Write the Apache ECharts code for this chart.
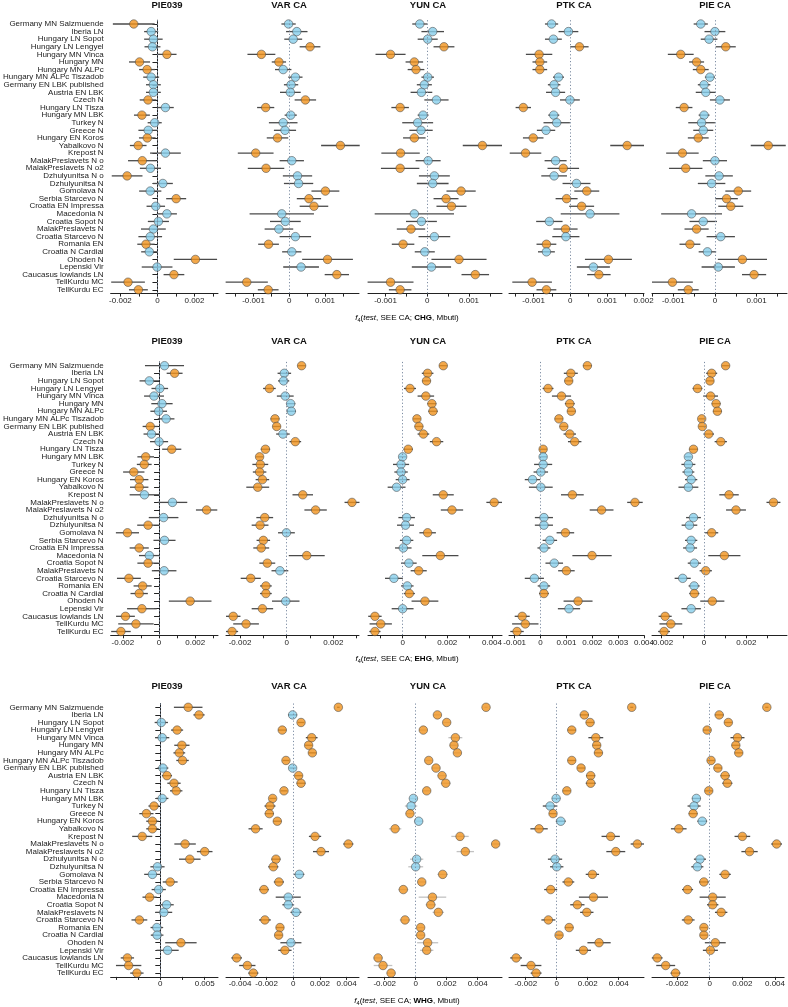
<!DOCTYPE html>
<html><head><meta charset="utf-8">
<script src="https://cdn.jsdelivr.net/npm/echarts@6/dist/echarts.min.js"></script>
<style>html,body{margin:0;padding:0;background:#fff}#c{width:788px;height:1007px}</style>
</head><body><div id="c"></div>
<script>
const categories = ['Germany MN Salzmuende','Iberia LN','Hungary LN Sopot','Hungary LN Lengyel','Hungary MN Vinca','Hungary MN','Hungary MN ALPc','Hungary MN ALPc Tiszadob','Germany EN LBK published','Austria EN LBK','Czech N','Hungary LN Tisza','Hungary MN LBK','Turkey N','Greece N','Hungary EN Koros','Yabalkovo N','Krepost N','MalakPreslavets N o','MalakPreslavets N o2','Dzhulyunitsa N o','Dzhulyunitsa N','Gomolava N','Serbia Starcevo N','Croatia EN Impressa','Macedonia N','Croatia Sopot N','MalakPreslavets N','Croatia Starcevo N','Romania EN','Croatia N Cardial','Ohoden N','Lepenski Vir','Caucasus lowlands LN','TellKurdu MC','TellKurdu EC'];
const panelNames = ['PIE039','VAR CA','YUN CA','PTK CA','PIE CA'];
const sourceNames = ['CHG','EHG','WHG'];

// ---- CHG row ----
const CHG_PIE039 = [-0.00128,-0.00034,-0.00022,-0.00027,0.00051,-0.00097,-0.00056,-0.00034,-0.00022,-0.00022,-0.00051,0.00043,-0.00084,-0.00015,-0.0005,-0.00055,-0.00104,0.00043,-0.00082,-0.00038,-0.00164,0.00029,-0.00039,0.00101,-0.00009,0.00051,0.00005,-0.00022,-0.00039,-0.00062,-0.00044,0.00205,-0.00002,0.00089,-0.00159,-0.00103];
const CHG_PIE039_SE = [0.00113,0.00038,0.0005,0.00043,0.00052,0.00057,0.00043,0.00043,0.0004,0.0004,0.00045,0.00045,0.00043,0.00038,0.00053,0.00045,0.00045,0.00083,0.00077,0.00057,0.00083,0.00054,0.0006,0.00054,0.0005,0.00054,0.00057,0.00067,0.00064,0.00047,0.00044,0.00117,0.00083,0.00056,0.00091,0.00051];
const CHG_PIE039_SIG = [1,0,0,0,1,1,1,0,0,0,1,0,1,0,0,1,1,0,1,0,1,0,0,1,0,0,0,0,0,1,0,1,0,1,1,1];
const CHG_VAR = [-0.00002,0.00021,0.00011,0.00058,-0.00078,-0.00029,-0.00017,0.00017,0.00005,0.00003,0.00045,-0.00066,0.00004,-0.00017,-0.00012,-0.00033,0.00143,-0.00094,0.00007,-0.00065,0.00023,0.00026,0.00101,0.00055,0.00069,-0.00021,-0.00011,-0.00029,0.00017,-0.00058,0.00007,0.00107,0.00033,0.00133,-0.00119,-0.00059];
const CHG_VAR_SE = [0.0002,0.0003,0.00025,0.00029,0.00039,0.0002,0.00023,0.0002,0.0002,0.00029,0.0003,0.00024,0.00017,0.0004,0.00031,0.0003,0.00054,0.0005,0.00034,0.00051,0.00041,0.00041,0.00039,0.00034,0.0004,0.0009,0.00043,0.0004,0.00044,0.00029,0.00027,0.00071,0.0005,0.00034,0.00059,0.00029];
const CHG_VAR_SIG = [0,0,0,1,1,1,0,0,0,0,1,1,0,0,0,1,1,1,0,1,0,0,1,1,1,0,0,0,0,1,0,1,0,1,1,1];
const CHG_YUN = [-0.00018,0.00013,0.00001,0.0004,-0.00088,-0.00031,-0.00027,0.00001,-0.00007,-0.00014,0.00022,-0.00065,-0.0001,-0.00023,-0.00015,-0.00031,0.00132,-0.00064,0.00002,-0.00065,0.00017,0.00013,0.00081,0.00045,0.00058,-0.00031,-0.00014,-0.00039,0.00017,-0.00058,-0.00006,0.00076,0.0001,0.00115,-0.00088,-0.00065];
const CHG_YUN_SE = [0.00018,0.00027,0.00024,0.00025,0.00036,0.00021,0.0002,0.00015,0.00018,0.00026,0.00029,0.00021,0.00013,0.00037,0.00028,0.00027,0.00047,0.00046,0.0003,0.00046,0.00037,0.00038,0.00035,0.0003,0.00036,0.00095,0.00037,0.00034,0.00038,0.00027,0.00024,0.00066,0.00047,0.00033,0.00055,0.00027];
const CHG_YUN_SIG = [0,0,0,1,1,1,1,0,0,0,0,1,0,0,0,1,1,1,0,1,0,0,1,1,1,0,0,1,0,1,0,1,0,1,1,1];
const CHG_PTK = [-0.00051,-0.00005,-0.00046,0.00025,-0.00085,-0.00083,-0.00083,-0.00032,-0.00044,-0.0004,-0.00001,-0.00128,-0.00045,-0.00037,-0.00066,-0.00101,0.00155,-0.00122,-0.0004,-0.00019,-0.00044,0.00017,0.00045,-0.0001,0.00031,0.00054,-0.00057,-0.00013,-0.00012,-0.00065,-0.00065,0.00104,0.00063,0.00078,-0.00104,-0.00065];
const CHG_PTK_SE = [0.00018,0.00027,0.00023,0.00025,0.00036,0.0002,0.0002,0.00015,0.00017,0.00026,0.00027,0.00021,0.00015,0.00036,0.00025,0.00028,0.00046,0.00043,0.0003,0.00043,0.00035,0.00038,0.00034,0.0003,0.00034,0.0008,0.00036,0.00033,0.00037,0.00027,0.00023,0.00064,0.00045,0.00032,0.00054,0.00027];
const CHG_PTK_SIG = [0,0,0,1,1,1,1,0,0,0,0,1,0,0,0,1,1,1,0,1,0,0,1,1,1,0,0,1,0,1,0,1,0,1,1,1];
const CHG_PIE = [-0.00034,0,-0.00014,0.00026,-0.00082,-0.00044,-0.00034,-0.00012,-0.00026,-0.00022,0.00012,-0.00074,-0.00026,-0.00032,-0.00028,-0.0004,0.00128,-0.00078,0,-0.0007,0.0001,-0.00008,0.00056,0.00028,0.00038,-0.00056,-0.00028,-0.00044,0.00014,-0.0006,-0.00018,0.00066,0.00008,0.00094,-0.00102,-0.00064];
const CHG_PIE_SE = [0.00017,0.00025,0.0002,0.00024,0.00031,0.00018,0.00019,0.00012,0.00015,0.00024,0.00024,0.0002,0.00013,0.00032,0.00024,0.00025,0.00042,0.00039,0.00029,0.0004,0.00033,0.00033,0.00031,0.00027,0.0003,0.00073,0.00033,0.00029,0.00034,0.00025,0.00021,0.00059,0.0004,0.00029,0.00049,0.00025];
const CHG_PIE_SIG = [0,0,0,1,1,1,1,0,0,0,0,1,0,0,0,1,1,1,0,1,0,0,1,1,1,0,0,1,0,1,0,1,0,1,1,1];

// ---- EHG row ----
const EHG_PIE039 = [0.0003,0.00086,-0.00054,0.00004,-0.00028,0.00016,-0.00002,0.00039,-0.00049,-0.00042,0,0.0007,-0.00074,-0.00082,-0.0014,-0.0011,-0.0011,-0.00081,0.00074,0.00263,0.00025,-0.00061,-0.00175,0.0003,-0.0011,-0.00054,-0.00061,0.00028,-0.00167,-0.00091,-0.0011,0.00172,-0.00095,-0.00186,-0.00128,-0.00211];
const EHG_PIE039_SE = [0.00108,0.00044,0.00054,0.00046,0.00055,0.00059,0.00046,0.00046,0.00042,0.00044,0.0005,0.00053,0.00046,0.00041,0.00059,0.00051,0.00051,0.00082,0.00082,0.00059,0.00082,0.0006,0.00064,0.00061,0.00053,0.00057,0.00059,0.00068,0.00066,0.0005,0.00048,0.00118,0.00082,0.00052,0.00098,0.00054];
const EHG_PIE039_SIG = [0,1,0,0,0,0,0,0,1,0,0,1,1,1,1,1,1,0,0,1,0,1,1,0,1,0,1,0,1,1,1,1,1,1,1,1];
const EHG_VAR = [0.00064,-0.0001,-0.00013,-0.00074,-0.00006,0.00017,0.0002,-0.0005,-0.00043,-0.00016,0.00037,-0.00091,-0.00116,-0.00113,-0.00116,-0.00104,-0.00124,0.00069,0.0028,0.00124,-0.00094,-0.00114,-0.00001,-0.001,-0.00109,0.00086,-0.00083,-0.00029,-0.00154,-0.00089,-0.00089,-0.00004,-0.00104,-0.00229,-0.00174,-0.00234];
const EHG_VAR_SE = [0.00017,0.00029,0.00024,0.00027,0.00036,0.0002,0.0002,0.00019,0.00017,0.00029,0.00025,0.0002,0.00016,0.00034,0.00029,0.00029,0.00049,0.00044,0.00032,0.00048,0.00036,0.00036,0.00036,0.00029,0.00034,0.00077,0.00034,0.00036,0.00043,0.00025,0.00025,0.00059,0.00046,0.00031,0.00055,0.00026];
const EHG_VAR_SIG = [1,0,0,1,0,0,0,1,1,0,1,1,1,1,1,1,1,1,1,1,1,1,0,1,1,1,1,0,1,1,1,0,1,1,1,1];
const EHG_YUN = [0.00182,0.00112,0.00107,0.00033,0.00104,0.00131,0.00136,0.00064,0.00073,0.00093,0.00152,0.00025,0,-0.00007,-0.00007,0,-0.00027,0.00182,0.0041,0.00221,0.00018,0.00013,0.00112,0.00018,0.00003,0.00169,0.00028,0.00072,-0.00039,0.00021,0.0003,0.001,0,-0.00124,-0.00098,-0.00124];
const EHG_YUN_SE = [0.00018,0.00026,0.00019,0.00027,0.00037,0.0002,0.00021,0.00017,0.00019,0.00026,0.0003,0.00021,0.00016,0.00036,0.0003,0.00031,0.0004,0.00047,0.00035,0.0005,0.00037,0.00038,0.00037,0.0003,0.00037,0.00081,0.00035,0.00036,0.0004,0.00028,0.00025,0.0006,0.00049,0.0003,0.0005,0.00025];
const EHG_YUN_SIG = [1,1,1,1,1,1,1,1,1,1,1,1,0,0,0,0,0,1,1,1,0,0,1,0,0,1,0,1,0,0,1,1,0,1,1,1];
const EHG_PTK = [0.00181,0.00117,0.00109,0.00029,0.00081,0.00113,0.00119,0.00071,0.0009,0.00113,0.00132,0.0001,0.0001,0.0001,0.00001,-0.00031,0.00001,0.00123,0.00365,0.00236,0.00013,0.00013,0.00096,0.00036,0.00013,0.00199,0.00053,0.001,-0.00024,0.00013,0.00013,0.00145,0.0011,-0.00071,-0.00059,-0.00091];
const EHG_PTK_SE = [0.00017,0.00027,0.00016,0.00021,0.00037,0.00019,0.00016,0.00016,0.00016,0.00024,0.00026,0.00015,0.00015,0.00035,0.00028,0.0003,0.00046,0.00044,0.0003,0.00046,0.00035,0.00035,0.00034,0.00028,0.00025,0.00076,0.00034,0.00032,0.00037,0.00024,0.00019,0.00056,0.00043,0.00029,0.00051,0.00026];
const EHG_PTK_SIG = [1,1,1,1,1,1,1,1,1,1,1,1,0,0,0,0,0,1,1,1,0,0,1,0,0,1,0,1,0,0,1,1,0,1,1,1];
const EHG_PIE = [0.00102,0.00036,0.00028,-0.00031,0.00031,0.00057,0.00063,-0.00011,-0.00008,0.00022,0.00079,-0.0005,-0.00074,-0.00074,-0.00074,-0.00061,-0.00074,0.00118,0.00328,0.00151,-0.0005,-0.00069,0.00036,-0.00061,-0.00066,0.00096,-0.00046,0.00008,-0.00101,-0.00047,-0.00046,0.00039,-0.00061,-0.00184,-0.00157,-0.00189];
const EHG_PIE_SE = [0.00018,0.00026,0.00019,0.00023,0.00035,0.00021,0.00021,0.00016,0.00017,0.00025,0.00029,0.0002,0.00016,0.00033,0.00028,0.00029,0.00047,0.00046,0.00033,0.00047,0.00035,0.00037,0.00031,0.00029,0.00033,0.00076,0.00031,0.00029,0.00038,0.00026,0.00024,0.00057,0.00046,0.00031,0.00054,0.00028];
const EHG_PIE_SIG = [1,1,1,1,1,1,1,1,1,1,1,1,0,0,0,0,0,1,1,1,0,0,1,0,0,1,0,1,0,0,1,1,0,1,1,1];

// ---- WHG row ----
const WHG_PIE039 = [0.00314,0.00436,0.00011,0.00189,0.00021,0.00243,0.00214,0.0025,0.00029,0.00075,0.00154,0.00179,0.00021,-0.00071,-0.00157,-0.00089,-0.00089,-0.00204,0.00279,0.005,0.00332,-0.00032,-0.00089,0.00111,-0.00018,-0.00121,0.00071,0.00039,-0.00236,-0.00039,-0.00036,0.00232,0.00082,-0.00371,-0.00357,-0.00264];
const WHG_PIE039_SE = [0.00161,0.00063,0.00075,0.00068,0.0008,0.00086,0.00066,0.0007,0.00061,0.00057,0.00075,0.0007,0.0007,0.00063,0.0008,0.0007,0.0007,0.00113,0.00121,0.00088,0.00121,0.0008,0.00093,0.00084,0.0008,0.0008,0.0008,0.00095,0.00089,0.00071,0.00071,0.00177,0.00125,0.00075,0.00143,0.00075];
const WHG_PIE039_SIG = [1,1,0,1,0,1,1,1,0,1,1,1,0,1,1,1,1,1,1,1,1,0,0,1,0,1,0,0,1,0,0,1,0,1,1,1];
const WHG_VAR = [0.00338,-0.00005,0.00058,-0.00083,0.00138,0.00115,0.00143,-0.00055,-0.00005,0.0004,0.00058,-0.0007,-0.00155,-0.00175,-0.0018,-0.0012,-0.00283,0.00163,0.00413,0.00208,-0.0013,-0.0015,0.00045,-0.00108,-0.0022,-0.00038,-0.00038,0.0002,-0.00213,-0.001,-0.0011,-0.00018,-0.00063,-0.00425,-0.00345,-0.003];
const WHG_VAR_SE = [0.0001,0.00034,0.00025,0.00031,0.00044,0.00028,0.00029,0.00025,0.00025,0.00029,0.00033,0.00025,0.00025,0.00041,0.00034,0.00031,0.00053,0.00046,0.00038,0.0006,0.00034,0.00038,0.00038,0.00038,0.00036,0.00094,0.00044,0.00041,0.00044,0.0003,0.00029,0.00079,0.0005,0.0004,0.00061,0.00038];
const WHG_VAR_SIG = [1,0,1,1,1,1,1,1,0,1,1,1,1,1,1,1,1,1,1,1,1,1,0,1,1,0,0,0,1,1,1,0,1,1,1,1];
const WHG_YUN = [0.00454,0.0014,0.002,0.00049,0.00256,0.00247,0.00269,0.00084,0.00131,0.0017,0.00194,0.00071,-0.00015,-0.0003,-0.00037,0.00019,-0.00133,0.00286,0.00516,0.0032,0.00006,0,0.00174,0.00039,-0.0008,0.00108,0.00097,0.00146,-0.00069,0.00032,0.00032,0.00077,0.00071,-0.00243,-0.00211,-0.00159];
const WHG_YUN_SE = [0.0001,0.00027,0.00027,0.00027,0.00045,0.00027,0.00027,0.00025,0.00027,0.00029,0.00032,0.00027,0.00028,0.0004,0.00028,0.00029,0.0004,0.00056,0.00027,0.00056,0.00043,0.00048,0.00034,0.00027,0.00032,0.00089,0.00033,0.00037,0.00034,0.00025,0.00025,0.00068,0.00043,0.0003,0.0006,0.0003];
const WHG_YUN_SIG = [1,1,1,1,1,1,1,1,1,1,1,1,0,0,1,0,1,1,1,1,0,0,1,1,1,1,1,1,1,1,1,1,1,1,1,1];
const WHG_PTK = [0.00484,0.00178,0.00215,0.00097,0.00252,0.00258,0.00269,0.00097,0.00157,0.00219,0.00219,0.00065,-0.00004,-0.00043,-0.00024,0.00026,-0.00114,0.00348,0.0052,0.00381,-0.00011,0,0.0023,0.00075,-0.00039,0.00237,0.00133,0.00194,-0.00054,0.0008,0.00015,0.00273,0.00172,-0.00262,-0.00166,-0.00133];
const WHG_PTK_SE = [0.0001,0.00029,0.00027,0.00027,0.00048,0.00026,0.00027,0.00026,0.00025,0.00029,0.00032,0.00026,0.00027,0.00047,0.00025,0.00032,0.00056,0.00059,0.00043,0.00061,0.00046,0.00043,0.00043,0.00038,0.00042,0.00094,0.00046,0.00043,0.00045,0.00027,0.00023,0.00075,0.00049,0.00038,0.00067,0.00035];
const WHG_PTK_SIG = [1,1,1,1,1,1,1,1,1,1,1,1,0,0,1,0,1,1,1,1,0,0,1,1,1,1,1,1,1,1,1,1,1,1,1,1];
const WHG_PIE = [0.0035,0.00058,0.00114,-0.00016,0.0017,0.0016,0.00178,0.00008,0.0005,0.00094,0.00108,-0.00006,-0.00082,-0.00096,-0.00102,-0.00046,-0.0019,0.002,0.0041,0.00244,-0.0006,-0.00076,0.00094,-0.00036,-0.00136,0.00018,0.00018,0.0007,-0.00132,-0.00036,-0.00036,0.00034,0.00004,-0.00322,-0.0027,-0.0021];
const WHG_PIE_SE = [0.0001,0.00027,0.00024,0.00025,0.00043,0.00025,0.00025,0.00023,0.00025,0.00028,0.00031,0.00024,0.00027,0.0004,0.00027,0.0003,0.00048,0.00048,0.00033,0.0005,0.00037,0.00037,0.00035,0.0003,0.00034,0.0008,0.00035,0.00038,0.00039,0.00022,0.00022,0.00064,0.00046,0.00033,0.00058,0.0003];
const WHG_PIE_SIG = [1,1,1,1,1,1,1,1,1,1,1,1,0,0,1,0,1,1,1,1,0,0,1,1,1,1,1,1,1,1,1,1,1,1,1,1];

// ---- tick values and tick labels per panel ----
const TICKS = [
  [-0.002,-0.001,0,0.001,0.002,0.003],
  [-0.0015,-0.001,-0.0005,0,0.0005,0.001,0.0015],
  [-0.001,-0.0005,0,0.0005,0.001,0.0015],
  [-0.0015,-0.001,-0.0005,0,0.0005,0.001,0.0015,0.002],
  [-0.0015,-0.001,-0.0005,0,0.0005,0.001,0.0015],
  [-0.002,-0.001,0,0.001,0.002,0.003],
  [-0.002,-0.001,0,0.001,0.002,0.003],
  [-0.001,0,0.001,0.002,0.003,0.004],
  [-0.001,0,0.001,0.002,0.003,0.004],
  [-0.002,-0.001,0,0.001,0.002,0.003],
  [-0.005,-0.0025,0,0.0025,0.005],
  [-0.004,-0.002,0,0.002,0.004],
  [-0.002,0,0.002,0.004],
  [-0.002,0,0.002,0.004],
  [-0.002,0,0.002,0.004]
];
const TICK_LABELS = [
  [-0.002,0,0.002],[-0.001,0,0.001],[-0.001,0,0.001],[-0.001,0,0.001,0.002],[-0.001,0,0.001],
  [-0.002,0,0.002],[-0.002,0,0.002],[0,0.002,0.004],[-0.001,0,0.001,0.002,0.003,0.004],[-0.002,0,0.002],
  [0,0.005],[-0.004,-0.002,0,0.002,0.004],[-0.002,0,0.002,0.004],[-0.002,0,0.002,0.004],[-0.002,0,0.002,0.004]
];

// ---- layout (not data) ----
const AX_RANGE = [
  [-0.00253,0.00327],[-0.00177,0.00195],[-0.00142,0.00179],[-0.00167,0.00201],[-0.00151,0.00173],
  [-0.00268,0.00326],[-0.0026,0.0031],[-0.00155,0.00445],[-0.00122,0.004],[-0.00246,0.00392],
  [-0.0056,0.0065],[-0.00505,0.00493],[-0.00308,0.00557],[-0.00308,0.00563],[-0.00354,0.00456]
];
const COL_LEFT = [105.5,226,368,509,652];
const COL_WIDTH = [112.5,133,134,135,135];
const ROW_TOP = [20.2,361.9,703.5];
const GRID_H = 273.4;
const TITLE_X = [167,289,428,574,715];
const TITLE_Y = [5,341,686];
const NAME_Y = [318,659,1000.5];

const PANELS = [
  [CHG_PIE039,CHG_PIE039_SE,CHG_PIE039_SIG],[CHG_VAR,CHG_VAR_SE,CHG_VAR_SIG],[CHG_YUN,CHG_YUN_SE,CHG_YUN_SIG],[CHG_PTK,CHG_PTK_SE,CHG_PTK_SIG],[CHG_PIE,CHG_PIE_SE,CHG_PIE_SIG],
  [EHG_PIE039,EHG_PIE039_SE,EHG_PIE039_SIG],[EHG_VAR,EHG_VAR_SE,EHG_VAR_SIG],[EHG_YUN,EHG_YUN_SE,EHG_YUN_SIG],[EHG_PTK,EHG_PTK_SE,EHG_PTK_SIG],[EHG_PIE,EHG_PIE_SE,EHG_PIE_SIG],
  [WHG_PIE039,WHG_PIE039_SE,WHG_PIE039_SIG],[WHG_VAR,WHG_VAR_SE,WHG_VAR_SIG],[WHG_YUN,WHG_YUN_SE,WHG_YUN_SIG],[WHG_PTK,WHG_PTK_SE,WHG_PTK_SIG],[WHG_PIE,WHG_PIE_SE,WHG_PIE_SIG]
];

const FONT = "'Liberation Sans', Arial, Helvetica, sans-serif";
const ORANGE = '#F0921D', BLUE = '#87CEEB', INK = '#222';

const grids = [], xAxes = [], yAxes = [], series = [], graphics = [];
PANELS.forEach((pd, p) => {
  const r = Math.floor(p / 5), c = p % 5;
  const [vals, se, sig] = pd;
  grids.push({left: COL_LEFT[c], top: ROW_TOP[r], width: COL_WIDTH[c], height: GRID_H, containLabel: false});
  const labs = TICK_LABELS[p];
  xAxes.push({
    gridIndex: p, type: 'value', min: AX_RANGE[p][0], max: AX_RANGE[p][1],
    axisLine: {show: true, lineStyle: {color: INK, width: 1}},
    axisTick: {show: true, customValues: TICKS[p], length: 3, lineStyle: {color: INK, width: 1}},
    axisLabel: {show: true, customValues: labs, fontSize: 8, color: INK, fontFamily: FONT, margin: 3,
      formatter: v => (Math.abs(v) < 1e-12 ? '0' : String(+v.toFixed(4)))},
    splitLine: {show: false}
  });
  yAxes.push({
    gridIndex: p, type: 'category', data: categories, inverse: true, show: c === 0,
    axisLine: {show: c === 0, lineStyle: {color: INK, width: 1}},
    axisTick: {show: c === 0, alignWithLabel: true, length: 5, lineStyle: {color: INK}},
    axisLabel: {show: c === 0, interval: 0, fontSize: 8, color: INK, fontFamily: FONT, margin: 7},
    splitLine: {show: false}
  });
  const barColor = (p === 12) ? '#c2c2c2' : '#4a4a4a';
  series.push({
    type: 'line', xAxisIndex: p, yAxisIndex: p, data: [], silent: true, z: 1,
    markLine: {silent: true, symbol: ['none', 'none'], label: {show: false},
      lineStyle: {type: [1.2, 2.2], color: '#7d8da3', width: 1}, data: [{xAxis: 0}], animation: false}
  });
  series.push({
    type: 'custom', xAxisIndex: p, yAxisIndex: p, z: 2, silent: true,
    data: vals.map((v, i) => [v - se[i], v + se[i], i]),
    encode: {x: [0, 1], y: 2},
    renderItem: (params, api) => {
      const a = api.coord([api.value(0), api.value(2)]);
      const b = api.coord([api.value(1), api.value(2)]);
      return {type: 'line', shape: {x1: a[0], y1: a[1], x2: b[0], y2: b[1]},
        style: {stroke: barColor, lineWidth: 1.3}};
    }
  });
  series.push({
    type: 'scatter', xAxisIndex: p, yAxisIndex: p, z: 3, symbolSize: 8.5, silent: true,
    data: vals.map((v, i) => ({value: [v, i], itemStyle: {color: sig[i] ? ORANGE : BLUE, borderColor: '#4a4a4a', borderWidth: 0.7}}))
  });
  graphics.push({type: 'text', x: TITLE_X[c], y: TITLE_Y[r], style: {text: panelNames[c], font: `bold 9.5px ${FONT}`, fill: '#111', textAlign: 'center', textVerticalAlign: 'middle'}});
});
sourceNames.forEach((s, r) => {
  graphics.push({type: 'text', x: 407, y: NAME_Y[r], style: {
    text: `{i|f}{s|4}{n|(}{i|test}{n|, SEE CA; }{b|${s}}{n|, Mbuti)}`,
    textAlign: 'center', textVerticalAlign: 'middle',
    rich: {
      n: {fontSize: 8, fontFamily: FONT, color: INK, lineHeight: 12},
      i: {fontSize: 8, fontFamily: FONT, fontStyle: 'italic', color: INK, lineHeight: 12},
      b: {fontSize: 8, fontFamily: FONT, fontWeight: 'bold', color: INK, lineHeight: 12},
      s: {fontSize: 5.5, fontFamily: FONT, color: INK, lineHeight: 12, padding: [5, 0, 0, 0]}
    }
  }});
});

const chart = echarts.init(document.getElementById('c'), null, {renderer: 'canvas'});
chart.setOption({
  animation: false, backgroundColor: '#fff',
  grid: grids, xAxis: xAxes, yAxis: yAxes, series: series, graphic: graphics
});
</script></body></html>
